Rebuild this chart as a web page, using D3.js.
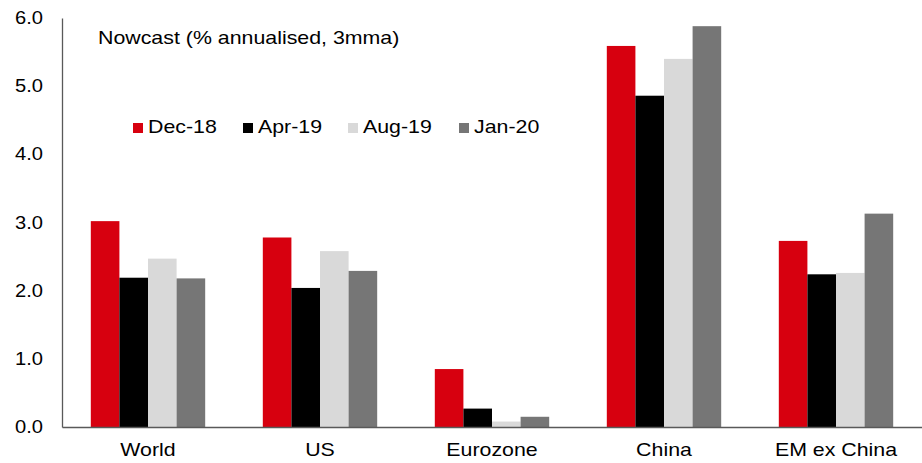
<!DOCTYPE html>
<html>
<head>
<meta charset="utf-8">
<script src="https://cdn.jsdelivr.net/npm/d3@7"></script>
<style>
  body { margin: 0; background: #fff; }
  text { font-family: "Liberation Sans", Arial, sans-serif; fill: #000; }
</style>
</head>
<body>
<script>
const width = 922;
const height = 463;
const margin = { left: 62, right: 0, top: 18, bottom: 36 };
const fontSize = "17.5px";
const stretchX = 1.22; // reference text is wider than it is tall

// data
const categories = ["World", "US", "Eurozone", "China", "EM ex China"];
const seriesNames = ["Dec-18", "Apr-19", "Aug-19", "Jan-20"];
const dec18 = [3.02, 2.78, 0.85, 5.59, 2.73];
const apr19 = [2.19, 2.04, 0.27, 4.86, 2.24];
const aug19 = [2.47, 2.58, 0.08, 5.40, 2.26];
const jan20 = [2.18, 2.29, 0.15, 5.88, 3.13];
const yTicks = [0, 1, 2, 3, 4, 5, 6];

const colors = ["#d7000f", "#000000", "#d9d9d9", "#767676"];
const seriesValues = [dec18, apr19, aug19, jan20];

// widen text horizontally around its anchor point
function stretch(sel, k) {
    sel.each(function () {
        const t = d3.select(this);
        const x0 = +t.attr("x") || 0;
        t.attr("transform", "translate(" + (x0 * (1 - k)) + ",0) scale(" + k + ",1)");
    });
}

const svg = d3.select("body")
    .append("svg")
    .attr("width", width)
    .attr("height", height);

const x = d3.scaleBand()
    .domain(categories)
    .range([margin.left, width - margin.right])
    .paddingInner(0.335)
    .paddingOuter(0.1675);

const xSub = d3.scaleBand()
    .domain(seriesNames)
    .range([0, x.bandwidth()]);

const y = d3.scaleLinear()
    .domain([0, 6])
    .range([height - margin.bottom, margin.top]);

// bars
const groups = svg.selectAll(".grp")
    .data(categories)
    .join("g")
    .attr("class", "grp")
    .attr("transform", d => "translate(" + x(d) + ",0)");

groups.selectAll("rect")
    .data((c, i) => seriesNames.map((s, j) => ({ s: s, v: seriesValues[j][i], c: colors[j] })))
    .join("rect")
    .attr("x", d => xSub(d.s))
    .attr("width", xSub.bandwidth())
    .attr("y", d => y(d.v))
    .attr("height", d => y(0) - y(d.v))
    .attr("fill", d => d.c);

// y axis
const yAxis = svg.append("g")
    .attr("transform", "translate(" + margin.left + ",0)")
    .call(d3.axisLeft(y).tickValues(yTicks).tickFormat(d3.format(".1f")).tickSize(0).tickPadding(19));
yAxis.select(".domain").attr("stroke", "#595959").attr("stroke-width", 1.3);
yAxis.selectAll("text").style("font-size", fontSize).attr("fill", "#000").call(stretch, 1.15);

// x axis
const xAxis = svg.append("g")
    .attr("transform", "translate(0," + y(0) + ")")
    .call(d3.axisBottom(x).tickSize(0).tickPadding(16.5));
xAxis.select(".domain").attr("stroke", "#595959").attr("stroke-width", 1.3);
xAxis.selectAll("text").style("font-size", fontSize).attr("fill", "#000").call(stretch, stretchX);

// title
svg.append("text")
    .attr("x", 98)
    .attr("y", 44.5)
    .style("font-size", fontSize)
    .text("Nowcast (% annualised, 3mma)")
    .call(stretch, stretchX);

// legend
const legendX = [133, 243, 348, 459];
const legend = svg.selectAll(".legend")
    .data(seriesNames)
    .join("g")
    .attr("class", "legend")
    .attr("transform", (d, i) => "translate(" + legendX[i] + ",123)");

legend.append("rect")
    .attr("width", 10)
    .attr("height", 10)
    .attr("fill", (d, i) => colors[i]);

legend.append("text")
    .attr("x", 15)
    .attr("y", 10)
    .style("font-size", fontSize)
    .text(d => d)
    .call(stretch, stretchX);
</script>
</body>
</html>
